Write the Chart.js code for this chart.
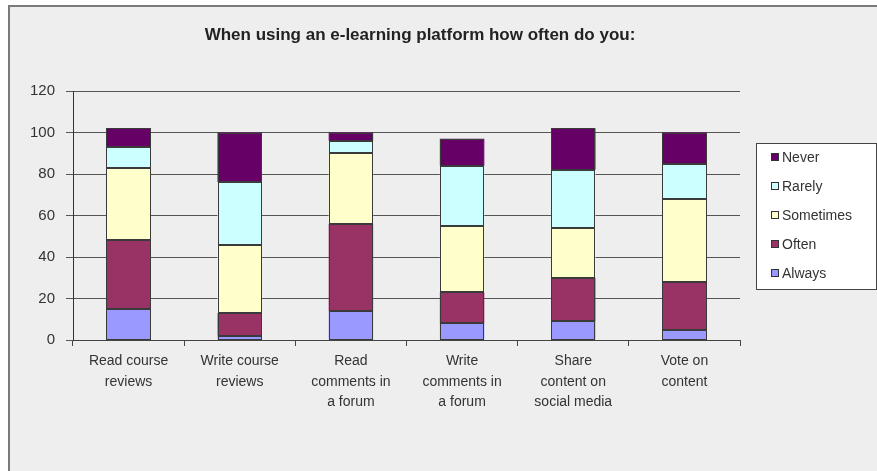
<!DOCTYPE html>
<html>
<head>
<meta charset="utf-8">
<script src="https://cdn.jsdelivr.net/npm/chart.js@4/dist/chart.umd.min.js"></script>
<style>
  html, body { margin: 0; padding: 0; background: #ffffff; }
  #wrap { position: relative; width: 877px; height: 471px; }
</style>
</head>
<body>
<div id="wrap"><canvas id="chart" width="877" height="471"></canvas></div>
<script>
// Survey: "When using an e-learning platform how often do you:"
const categories = [
  ['Read course', 'reviews'],
  ['Write course', 'reviews'],
  ['Read', 'comments in', 'a forum'],
  ['Write', 'comments in', 'a forum'],
  ['Share', 'content on', 'social media'],
  ['Vote on', 'content']
];
const always    = [15, 2, 14, 8, 9, 5];
const often     = [33, 11, 42, 15, 21, 23];
const sometimes = [35, 33, 34, 32, 24, 40];
const rarely    = [10, 30, 6, 29, 28, 17];
const never     = [9, 24, 4, 13, 20, 15];
const yTicks    = [0, 20, 40, 60, 80, 100, 120];

const titleText = 'When using an e-learning platform how often do you:';
const FONT = "'Liberation Sans', Arial, sans-serif";

const series = [
  { label: 'Always',    data: always,    color: '#9999ff' },
  { label: 'Often',     data: often,     color: '#993366' },
  { label: 'Sometimes', data: sometimes, color: '#ffffcc' },
  { label: 'Rarely',    data: rarely,    color: '#ccffff' },
  { label: 'Never',     data: never,     color: '#660066' }
];

// Crisp dark outline around every bar segment, taken from the bar elements
const outlinePlugin = {
  id: 'outline',
  afterDatasetsDraw(chart) {
    const ctx = chart.ctx;
    ctx.save();
    ctx.strokeStyle = '#3a3a3a';
    ctx.lineWidth = 1;
    chart.data.datasets.forEach((ds, di) => {
      chart.getDatasetMeta(di).data.forEach(bar => {
        const p = bar.getProps(['x', 'y', 'base', 'width'], true);
        const l = Math.round(p.x - p.width / 2) + 0.5;
        const r = Math.round(p.x + p.width / 2) - 0.5;
        const t = Math.round(Math.min(p.y, p.base)) + 0.5;
        const b = Math.round(Math.max(p.y, p.base)) - 0.5;
        ctx.strokeRect(l, t, r - l, b - t);
      });
    });
    ctx.restore();
  }
};

// Grey panel with a left/top frame, plus title and the boxed legend
const panelPlugin = {
  id: 'panel',
  beforeDraw(chart) {
    const ctx = chart.ctx;
    ctx.save();
    ctx.fillStyle = '#eeeeee';
    ctx.fillRect(8, 5, chart.width - 8, chart.height - 5);
    ctx.fillStyle = '#7a7a7a';
    ctx.fillRect(8, 5, 2, chart.height - 5);
    ctx.fillRect(8, 5, chart.width - 8, 2);
    ctx.restore();
  },
  afterDraw(chart) {
    const ctx = chart.ctx;
    ctx.save();
    // title
    ctx.fillStyle = '#222222';
    ctx.font = 'bold 17px ' + FONT;
    ctx.textAlign = 'center';
    ctx.textBaseline = 'middle';
    ctx.fillText(titleText, 420, 35);

    // legend box
    const bx = 756.5, by = 143.5, bw = 120, bh = 146;
    ctx.fillStyle = '#ffffff';
    ctx.fillRect(bx, by, bw, bh);
    ctx.strokeStyle = '#444444';
    ctx.lineWidth = 1;
    ctx.strokeRect(bx, by, bw, bh);

    ctx.font = '14px ' + FONT;
    ctx.textAlign = 'left';
    const items = chart.data.datasets.slice().reverse();
    items.forEach((ds, i) => {
      const cy = 157 + i * 29;
      ctx.fillStyle = ds.backgroundColor;
      ctx.fillRect(771, cy - 4, 8, 8);
      ctx.strokeStyle = '#333333';
      ctx.strokeRect(771.5, cy - 3.5, 7, 7);
      ctx.fillStyle = '#333333';
      ctx.fillText(ds.label, 782, cy + 1);
    });
    ctx.restore();
  }
};

new Chart(document.getElementById('chart'), {
  type: 'bar',
  data: {
    labels: categories,
    datasets: series.map(s => ({
      label: s.label,
      data: s.data,
      backgroundColor: s.color,
      borderWidth: 0,
      barPercentage: 0.4,
      categoryPercentage: 1
    }))
  },
  options: {
    responsive: false,
    animation: false,
    layout: { padding: { left: 0, right: 137, top: 91, bottom: 0 } },
    plugins: {
      legend: { display: false },
      title: { display: false },
      tooltip: { enabled: false }
    },
    scales: {
      x: {
        stacked: true,
        afterFit(scale) { scale.height = 131; },
        grid: {
          offset: true,
          drawOnChartArea: false,
          drawTicks: true,
          tickLength: 6,
          color: '#444444'
        },
        border: { color: '#444444', width: 1 },
        ticks: {
          color: '#333333',
          font: { family: FONT, size: 14, lineHeight: 1.47 },
          padding: 5,
          maxRotation: 0,
          autoSkip: false
        }
      },
      y: {
        stacked: true,
        min: 0,
        max: 120,
        afterFit(scale) { scale.width = 73; },
        afterBuildTicks(scale) { scale.ticks = yTicks.map(v => ({ value: v })); },
        grid: {
          color: '#555555',
          lineWidth: 1,
          drawTicks: true,
          tickLength: 7
        },
        border: { color: '#333333', width: 1 },
        ticks: {
          color: '#333333',
          font: { family: FONT, size: 15 },
          padding: 11
        }
      }
    }
  },
  plugins: [outlinePlugin, panelPlugin]
});
</script>
</body>
</html>
